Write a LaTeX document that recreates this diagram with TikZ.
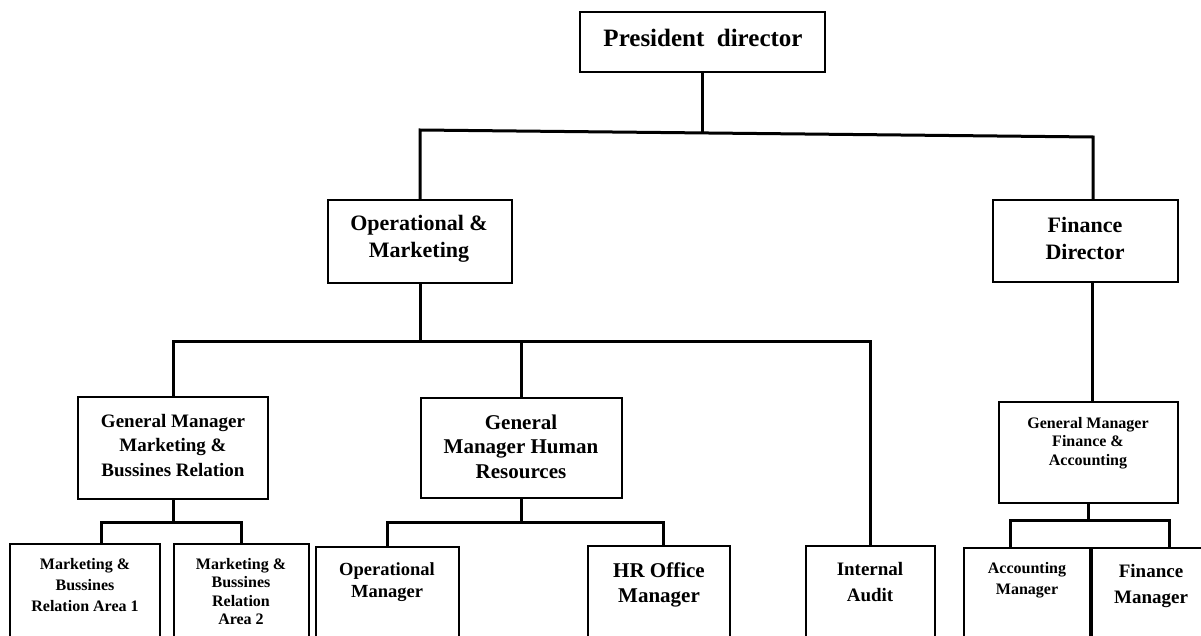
\documentclass[tikz,border=0pt]{standalone}
\usepackage{fontspec}
\setmainfont{Liberation Serif}
\newcommand\fsz[2]{\fontsize{#1}{#2}\selectfont\bfseries}
\tikzset{
  box/.style={draw, line width=2pt, inner sep=0pt, rectangle},
  wire/.style={line width=3pt},
  txt/.style={align=center, inner sep=0pt, anchor=north},
}
\begin{document}
\begin{tikzpicture}[x=1pt,y=-1pt]
\useasboundingbox (0,0) rectangle (1201,636);
\clip (0,0) rectangle (1201,636);
% boxes
\node[box, minimum width=245, minimum height=60] (pres) at (702.5,42) {};
\node[box, minimum width=184, minimum height=83] (opm) at (420,241.5) {};
\node[box, minimum width=185, minimum height=82] (fin) at (1085.5,241) {};
\node[box, minimum width=190, minimum height=102] (gmm) at (173,448) {};
\node[box, minimum width=201, minimum height=100] (gmhr) at (521.5,448) {};
\node[box, minimum width=179, minimum height=101] (gmf) at (1088.5,452.5) {};
\node[box, minimum width=150, minimum height=106] (a1) at (85,597) {};
\node[box, minimum width=135, minimum height=106] (a2) at (241.5,597) {};
\node[box, minimum width=143, minimum height=103] (opmgr) at (387.5,598.5) {};
\node[box, minimum width=142, minimum height=104] (hro) at (659,598) {};
\node[box, minimum width=129, minimum height=104] (ia) at (870.5,598) {};
\node[box, minimum width=126, minimum height=102] (acc) at (1027,599) {};
\node[box, minimum width=122, minimum height=102] (finm) at (1151,599) {};
% texts
\node[txt, font=\fsz{25}{28}] (tpres) at (703,29) {President\ \ director};
\node[txt, font=\fsz{22}{27}] (topm) at (419,215) {Operational \&\\Marketing};
\node[txt, font=\fsz{22}{27}] (tfin) at (1085,217) {Finance\\Director};
\node[txt, font=\fsz{19}{24.5}] (tgmm) at (173,414.1) {General Manager\\Marketing \&\\Bussines Relation};
\node[txt, font=\fsz{21}{24.5}] (tgmhr) at (521,414.7) {General\\Manager Human\\Resources};
\node[txt, font=\fsz{16}{18.5}] (tgmf) at (1088,417.1) {General Manager\\Finance \&\\Accounting};
\node[txt, font=\fsz{16}{21}] (ta1) at (85,558.1) {Marketing \&\\Bussines\\Relation Area 1};
\node[txt, font=\fsz{16}{18.5}] (ta2) at (241,558.1) {Marketing \&\\Bussines\\Relation\\Area 2};
\node[txt, font=\fsz{18.5}{22}] (topmgr) at (387,562.4) {Operational\\Manager};
\node[txt, font=\fsz{21}{25}] (thro) at (659,562.7) {HR Office\\Manager};
\node[txt, font=\fsz{19}{26}] (tia) at (870,562.1) {Internal\\Audit};
\node[txt, font=\fsz{16}{21}] (tacc) at (1027,562.1) {Accounting\\Manager};
\node[txt, font=\fsz{19}{26}] (tfinm) at (1151,564.1) {Finance\\Manager};
% bus coordinates
\coordinate (busL) at (420,130);
\coordinate (busM) at (702.5,133);
\coordinate (busR) at (1093,137);
\coordinate (b2) at (420,341);
\coordinate (b3) at (173,522);
\coordinate (b4) at (521.5,522);
\coordinate (b5) at (1088.5,520);
% connectors
\draw[wire] (pres.south) -- (busM);
\draw[wire] (opm.north) -- (busL) -- (busR) -- (busR |- fin.north);
\draw[wire] (opm.south) -- (b2);
\draw[wire] (gmm.north) -- (gmm.north |- b2) -- (ia.north |- b2) -- (ia.north);
\draw[wire] (gmhr.north) -- (gmhr.north |- b2);
\draw[wire] (gmm.south) -- (b3);
\draw[wire] ([xshift=16pt]a1.north) -- ([xshift=16pt]a1.north |- b3) -- (a2.north |- b3) -- (a2.north);
\draw[wire] (gmhr.south) -- (b4);
\draw[wire] (opmgr.north) -- (opmgr.north |- b4) -- ([xshift=4pt]hro.north |- b4) -- ([xshift=4pt]hro.north);
\draw[wire] ([xshift=6.5pt]fin.south) -- ([xshift=3.5pt]gmf.north);
\draw[wire] (gmf.south) -- (b5);
\draw[wire] ([xshift=-17pt]acc.north) -- ([xshift=-17pt]acc.north |- b5) -- ([xshift=18pt]finm.north |- b5) -- ([xshift=18pt]finm.north);
\draw[line width=4pt] (acc.north east) -- (acc.south east);
\end{tikzpicture}
\end{document}
